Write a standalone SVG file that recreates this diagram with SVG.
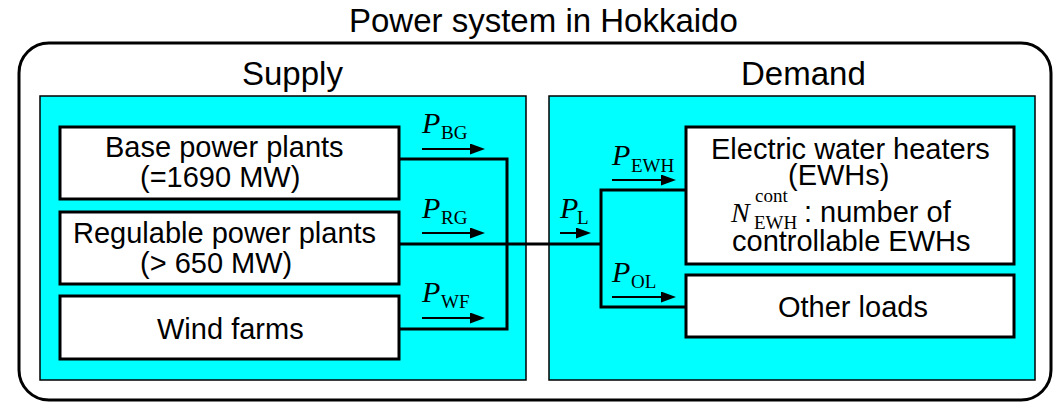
<svg xmlns="http://www.w3.org/2000/svg" width="1055" height="403" viewBox="0 0 1055 403">
<style>
.sans{font-family:"Liberation Sans",Arial,sans-serif;fill:#000}
.t33{font-size:33px}
.t29{font-size:29px}
.ser{font-family:"Liberation Serif","Times New Roman",serif;fill:#000}
.pi{font-style:italic;font-size:30px}
.sub{font-size:19px}
.panel{fill:#00FFFF;stroke:#000;stroke-width:1.5}
.box{fill:#fff;stroke:#000;stroke-width:3}
.wire{fill:none;stroke:#000;stroke-width:3;stroke-linejoin:miter}
.arr{stroke:#000;stroke-width:2;marker-end:url(#ah)}
</style>
<defs>
<marker id="ah" markerUnits="userSpaceOnUse" viewBox="0 0 15 11" markerWidth="15" markerHeight="11" refX="10" refY="5.5" orient="auto">
<path d="M0,0 L15,5.5 L0,11 z" fill="#000"/>
</marker>
</defs>
<rect width="1055" height="403" fill="#fff"/>
<g id="outer">
<rect x="19" y="43" width="1032" height="357" rx="30" ry="30" fill="none" stroke="#000" stroke-width="3"/>
<text class="sans t33" x="349" y="32">Power system in Hokkaido</text>
</g>
<g id="supply">
<rect class="panel" x="40" y="96" width="486" height="284"/>
<text class="sans t33" x="242" y="85">Supply</text>
</g>
<g id="demand">
<rect class="panel" x="549" y="96" width="486" height="284"/>
<text class="sans t33" x="741" y="85">Demand</text>
</g>
<g id="base">
<rect class="box" x="60" y="127" width="339" height="72"/>
<text class="sans t29" x="105" y="157">Base power plants</text>
<text class="sans t29" x="140" y="187">(=1690 MW)</text>
</g>
<g id="regulable">
<rect class="box" x="60" y="212" width="339" height="72"/>
<text class="sans t29" x="73" y="243">Regulable power plants</text>
<text class="sans t29" x="140" y="273">(&gt; 650 MW)</text>
</g>
<g id="wind">
<rect class="box" x="60" y="296" width="339" height="63"/>
<text class="sans t29" x="157" y="339">Wind farms</text>
</g>
<g id="ewh">
<rect class="box" x="686" y="127" width="328" height="137"/>
<text class="sans t29" x="711" y="159">Electric water heaters</text>
<text class="sans t29" x="788" y="185">(EWHs)</text>
<text class="ser" x="731" y="222" font-size="28" font-style="italic">N</text>
<text class="ser sub" x="755" y="202">cont</text>
<text class="ser sub" x="754" y="229">EWH</text>
<text class="sans t29" x="804" y="222">: number of</text>
<text class="sans t29" x="732" y="251">controllable EWHs</text>
</g>
<g id="other">
<rect class="box" x="686" y="275" width="328" height="62"/>
<text class="sans t29" x="778" y="317">Other loads</text>
</g>
<g id="connectors">
<path class="wire" d="M399,159 H507 V329 H399"/>
<path class="wire" d="M399,244 H601"/>
<path class="wire" d="M686,190 H601 V307 H686"/>
<line class="arr" x1="422" y1="149" x2="480" y2="149"/>
<line class="arr" x1="422" y1="233" x2="480" y2="233"/>
<line class="arr" x1="422" y1="318" x2="480" y2="318"/>
<line class="arr" x1="560" y1="233" x2="586" y2="233"/>
<line class="arr" x1="612" y1="180" x2="671" y2="180"/>
<line class="arr" x1="612" y1="297" x2="671" y2="297"/>
<text class="ser pi" x="422" y="133">P</text><text class="ser sub" x="441" y="139">BG</text>
<text class="ser pi" x="422" y="218">P</text><text class="ser sub" x="441" y="224">RG</text>
<text class="ser pi" x="422" y="302">P</text><text class="ser sub" x="441" y="308">WF</text>
<text class="ser pi" x="560" y="218">P</text><text class="ser sub" x="577" y="224">L</text>
<text class="ser pi" x="612" y="165">P</text><text class="ser sub" x="631" y="172">EWH</text>
<text class="ser pi" x="612" y="282">P</text><text class="ser sub" x="631" y="288">OL</text>
</g>
</svg>
